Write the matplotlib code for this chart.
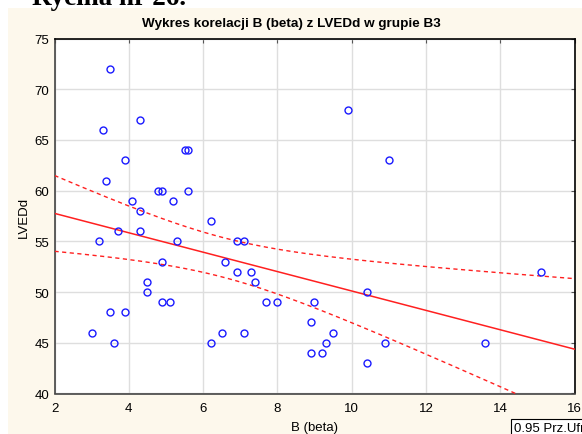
import numpy as np
import matplotlib.pyplot as plt
from matplotlib.patches import Rectangle

plt.rcParams["font.family"] = ["Liberation Sans", "DejaVu Sans"]

# B (beta) vs LVEDd, grupa B3
beta = [3.0, 3.2, 3.3, 3.4, 3.5, 3.5, 3.6, 3.7, 3.9, 3.9,
        4.1, 4.3, 4.3, 4.3, 4.5, 4.5, 4.8, 4.9, 4.9, 4.9,
        5.1, 5.2, 5.3, 5.5, 5.6, 5.6, 6.2, 6.2, 6.5, 6.6,
        6.9, 6.9, 7.1, 7.1, 7.3, 7.4, 7.7, 8.0, 8.9, 8.9,
        9.0, 9.2, 9.3, 9.5, 9.9, 10.4, 10.4, 10.9, 11.0, 13.6,
        15.1]
lvedd = [46, 55, 66, 61, 72, 48, 45, 56, 63, 48,
         59, 67, 58, 56, 51, 50, 60, 60, 53, 49,
         49, 59, 55, 64, 64, 60, 57, 45, 46, 53,
         55, 52, 55, 46, 52, 51, 49, 49, 47, 44,
         49, 44, 45, 46, 68, 50, 43, 45, 63, 45,
         52]

x = np.array(beta)
y = np.array(lvedd)
n = len(x)

# regresja liniowa + 95% przedzial ufnosci dla sredniej
b1, b0 = np.polyfit(x, y, 1)
resid = y - (b0 + b1 * x)
s = np.sqrt(np.sum(resid ** 2) / (n - 2))
t = 2.0096  # t(0.975, n-2)
xs = np.linspace(2, 16, 200)
ys = b0 + b1 * xs
se = s * np.sqrt(1.0 / n + (xs - x.mean()) ** 2 / np.sum((x - x.mean()) ** 2))

fig = plt.figure(figsize=(5.82, 4.35), dpi=100)
fig.patch.set_facecolor("white")
fig.patches.append(Rectangle((8 / 582, 0), 1, 1 - 9 / 435, transform=fig.transFigure,
                             facecolor="#fdf8ec", edgecolor="none", zorder=-10))

ax = fig.add_axes([54.5 / 582, 1 - 394.5 / 435, 520 / 582, 355 / 435])
ax.set_facecolor("white")

ax.plot(xs, ys, color="#ff2020", lw=1.1, zorder=3)
ax.plot(xs, ys + t * se, color="#ff2020", lw=1.0, ls=(0, (3, 2.5)), zorder=3)
ax.plot(xs, ys - t * se, color="#ff2020", lw=1.0, ls=(0, (3, 2.5)), zorder=3)
ax.plot(x, y, "o", mfc="none", mec="#1a1aff", ms=5, mew=1.0, zorder=4, clip_on=False)

ax.set_xlim(2, 16)
ax.set_ylim(40, 75)
ax.set_xticks(range(2, 17, 2))
ax.set_yticks(range(40, 76, 5))
ax.grid(True, color="#dedede", lw=1.0)
ax.set_axisbelow(True)

ax.tick_params(axis="both", labelsize=9.5, pad=6)
ax.tick_params(axis="y", pad=4)
ax.tick_params(which="both", right=True, top=True, direction="in", length=3, color="#555555")
ax.tick_params(left=False, bottom=False)
for sp in ["left", "bottom"]:
    ax.spines[sp].set_color("#444444")
    ax.spines[sp].set_linewidth(1.2)
for sp in ["top", "right"]:
    ax.spines[sp].set_color("black")
    ax.spines[sp].set_linewidth(1.2)

ax.set_xlabel("B (beta)", fontsize=9.5, labelpad=5)
ax.set_ylabel("LVEDd", fontsize=9.5, labelpad=3)

fig.text(291 / 582, 1 - 24 / 435, "Wykres korelacji B (beta) z LVEDd w grupie B3",
         ha="center", va="center", fontsize=9.7, fontweight="bold")
fig.text(32 / 582, 1 - 5 / 435, "Rycina nr 26.", ha="left", va="baseline",
         fontsize=19.5, fontweight="bold", family="Liberation Serif")
fig.text(514 / 582, 1 - 429 / 435, "0.95 Prz.Ufn.", ha="left", va="center",
         fontsize=9.5,
         bbox=dict(boxstyle="square,pad=0.25", fc="white", ec="black", lw=0.8))

fig.savefig("out.png", dpi=100)
